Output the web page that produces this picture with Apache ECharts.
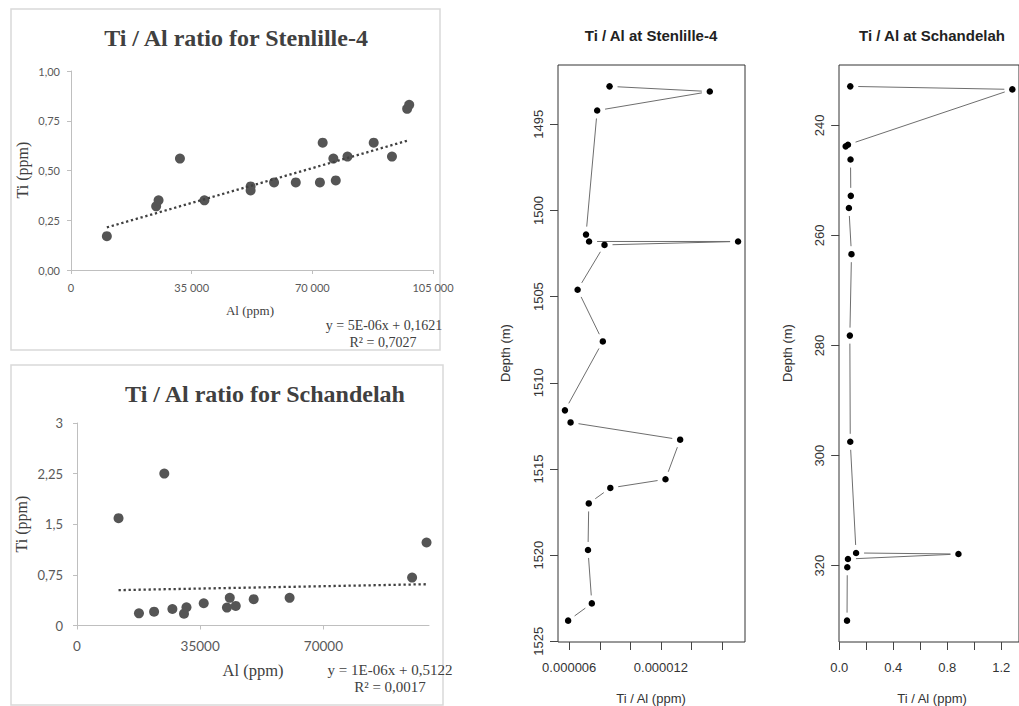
<!DOCTYPE html>
<html>
<head>
<meta charset="utf-8">
<script src="https://cdn.jsdelivr.net/npm/echarts@6/dist/echarts.min.js"></script>
<style>
  html, body { margin: 0; padding: 0; background: #fff; }
  #chart { width: 1019px; height: 706px; }
</style>
</head>
<body>
<div id="chart"></div>
<script>
// ---- Stenlille-4 cross-plot: Al (ppm) against Ti (ppm) ----
const stenAl = [10400, 24700, 25400, 31600, 38700, 52100, 52100, 58900, 65200, 72200, 73000, 76100, 76800, 80200, 87800, 93100, 97500, 98100];
const stenTi = [0.17, 0.32, 0.35, 0.56, 0.35, 0.42, 0.40, 0.44, 0.44, 0.44, 0.64, 0.56, 0.45, 0.57, 0.64, 0.57, 0.81, 0.83];
const stenTrend = [5e-6, 0.1621];          // slope, intercept of the linear fit
const stenR2 = 0.7027;
const stenAlTicks = [0, 35000, 70000, 105000];
const stenTiTicks = [0, 0.25, 0.5, 0.75, 1];

// ---- Schandelah cross-plot ----
const schAl = [11800, 24800, 17600, 21900, 27100, 30400, 31100, 36000, 42600, 43400, 45100, 50200, 60400, 95200, 99300];
const schTi = [1.59, 2.25, 0.18, 0.205, 0.245, 0.175, 0.27, 0.33, 0.265, 0.41, 0.29, 0.39, 0.41, 0.71, 1.23];
const schTrend = [1e-6, 0.5122];
const schR2 = 0.0017;
const schAlTicks = [0, 35000, 70000];
const schAlMax = 100000;
const schTiTicks = [0, 0.75, 1.5, 2.25, 3];

// ---- Ti / Al down-hole profile, Stenlille-4 ----
const stenDepth = [1492.8, 1493.1, 1494.2, 1501.4, 1501.8, 1501.8, 1502.0, 1504.6, 1507.6, 1511.6, 1512.3, 1513.3, 1515.6, 1516.1, 1517.0, 1519.7, 1522.8, 1523.8];
const stenRatio = [8.64e-6, 15.2e-6, 7.83e-6, 7.10e-6, 7.30e-6, 17.05e-6, 8.31e-6, 6.55e-6, 8.20e-6, 5.72e-6, 6.09e-6, 13.26e-6, 12.30e-6, 8.69e-6, 7.28e-6, 7.23e-6, 7.48e-6, 5.93e-6];
const stenDepthTicks = [1495, 1500, 1505, 1510, 1515, 1520, 1525];
const stenRatioTicks = [6e-6, 8e-6, 10e-6, 12e-6, 14e-6, 16e-6];
const stenRatioLabels = [6e-6, 12e-6];

// ---- Ti / Al down-hole profile, Schandelah ----
const schDepth = [232.9, 233.45, 243.5, 243.8, 246.2, 252.8, 255.0, 263.4, 278.2, 297.5, 317.7, 317.9, 318.8, 320.3, 330.0];
const schRatio = [0.082, 1.282, 0.065, 0.048, 0.084, 0.086, 0.072, 0.091, 0.079, 0.082, 0.125, 0.883, 0.065, 0.060, 0.058];
const schDepthTicks = [240, 260, 280, 300, 320];
const schRatioTicks = [0, 0.2, 0.4, 0.6, 0.8, 1.0, 1.2];
const schRatioLabels = [0, 0.4, 0.8, 1.2];

// ---------------------------------------------------------------
const SERIF = '"Liberation Serif", "Times New Roman", serif';
const SANS = '"Liberation Sans", Arial, sans-serif';
const XL = 'Lato, "Liberation Sans", sans-serif';

const pairs = (xs, ys) => xs.map((x, i) => [x, ys[i]]);
const comma = s => String(s).replace('.', ',');

// R style plotting range: data range widened by 4 % on each side
function rRange(v) {
  const lo = Math.min(...v), hi = Math.max(...v), d = (hi - lo) * 0.04;
  return [lo - d, hi + d];
}
// straight fit line across the x-range of the data
function trendLine(xs, coef) {
  const lo = Math.min(...xs), hi = Math.max(...xs);
  return [[lo, coef[0] * lo + coef[1]], [hi, coef[0] * hi + coef[1]]];
}
function slopeText(s) {
  const [m, e] = s.toExponential(0).split('e');
  const ex = parseInt(e, 10);
  return m.toUpperCase() + 'E' + (ex < 0 ? '-' : '+') + String(Math.abs(ex)).padStart(2, '0');
}
const eqText = c => 'y = ' + slopeText(c[0]) + 'x + ' + comma(c[1].toFixed(4));
const r2Text = r => 'R\u00b2 = ' + comma(r.toFixed(4));

// consecutive segments of a profile
function segments(xs, ys) {
  const out = [];
  for (let i = 0; i < xs.length - 1; i++) out.push([xs[i], ys[i], xs[i + 1], ys[i + 1]]);
  return out;
}
// segment shortened at both ends, leaving a gap around each point
function gapped(gap) {
  return function (params, api) {
    const a = api.coord([api.value(0), api.value(1)]);
    const b = api.coord([api.value(2), api.value(3)]);
    const dx = b[0] - a[0], dy = b[1] - a[1], len = Math.hypot(dx, dy);
    if (len <= 2 * gap) return { type: 'group', children: [] };
    const ux = dx / len, uy = dy / len;
    return {
      type: 'line',
      shape: { x1: a[0] + ux * gap, y1: a[1] + uy * gap, x2: b[0] - ux * gap, y2: b[1] - uy * gap },
      style: { stroke: '#6e6e6e', lineWidth: 1 }
    };
  };
}

const stenX = rRange(stenRatio), stenY = rRange(stenDepth);
const schX = rRange(schRatio), schY = rRange(schDepth);

// ---- axis builders ----
function excelAxis(ticks, min, max, fmt, labelSize, margin, tickLen) {
  return {
    type: 'value', min: min, max: max,
    axisLine: { show: true, lineStyle: { color: '#bfbfbf', width: 1 } },
    axisTick: { show: true, length: tickLen, lineStyle: { color: '#bfbfbf' }, customValues: ticks },
    axisLabel: { customValues: ticks, formatter: fmt, fontFamily: XL, fontSize: labelSize, color: '#595959', margin: margin },
    splitLine: { show: false }
  };
}
function rAxis(ticks, labels, range, fmt, inverse, rotate, margin) {
  return {
    type: 'value', min: range[0], max: range[1], inverse: !!inverse,
    axisLine: { show: false },
    axisTick: { show: true, length: 8, lineStyle: { color: '#444' }, customValues: ticks },
    axisLabel: { customValues: labels, formatter: fmt, fontFamily: SANS, fontSize: 13, color: '#333', margin: margin, rotate: rotate || 0 },
    splitLine: { show: false }
  };
}

const boxGrid = { show: true, borderColor: '#333', borderWidth: 1, backgroundColor: 'transparent' };

const option = {
  animation: false,
  backgroundColor: '#fff',
  grid: [
    { left: 71, top: 71, width: 362, height: 199 },
    { left: 77, top: 423, width: 352, height: 202.5 },
    Object.assign({ left: 558, top: 65, width: 187, height: 577 }, boxGrid),
    Object.assign({ left: 839, top: 65, width: 184, height: 577 }, boxGrid)
  ],
  xAxis: [
    Object.assign(excelAxis(stenAlTicks, stenAlTicks[0], stenAlTicks[stenAlTicks.length - 1],
      v => v === 0 ? '0' : String(v).replace(/\B(?=(\d{3})+(?!\d))/g, ' '), 11, 12, 4), { gridIndex: 0 }),
    Object.assign(excelAxis(schAlTicks, schAlTicks[0], schAlMax, v => String(v), 13.5, 13, 4), { gridIndex: 1 }),
    Object.assign(rAxis(stenRatioTicks, stenRatioLabels, stenX, v => v.toFixed(6), false, 0, 19), { gridIndex: 2 }),
    Object.assign(rAxis(schRatioTicks, schRatioLabels, schX, v => v.toFixed(1), false, 0, 19), { gridIndex: 3 })
  ],
  yAxis: [
    Object.assign(excelAxis(stenTiTicks, stenTiTicks[0], stenTiTicks[stenTiTicks.length - 1],
      v => comma(v.toFixed(2)), 11, 11, 4), { gridIndex: 0 }),
    Object.assign(excelAxis(schTiTicks, schTiTicks[0], schTiTicks[schTiTicks.length - 1],
      v => comma(v), 13, 14, 4), { gridIndex: 1 }),
    Object.assign(rAxis(stenDepthTicks, stenDepthTicks, stenY, v => String(v), true, 90, 13), { gridIndex: 2 }),
    Object.assign(rAxis(schDepthTicks, schDepthTicks, schY, v => String(v), true, 90, 13), { gridIndex: 3 })
  ],
  series: [
    {
      type: 'line', xAxisIndex: 0, yAxisIndex: 0, data: trendLine(stenAl, stenTrend),
      symbol: 'none', silent: true,
      lineStyle: { color: '#404040', width: 2.3, type: [2.3, 2.7] }
    },
    {
      type: 'scatter', xAxisIndex: 0, yAxisIndex: 0, data: pairs(stenAl, stenTi),
      symbol: 'circle', symbolSize: 10, itemStyle: { color: '#555', opacity: 1 }
    },
    {
      type: 'line', xAxisIndex: 1, yAxisIndex: 1, data: trendLine(schAl, schTrend),
      symbol: 'none', silent: true,
      lineStyle: { color: '#404040', width: 2.3, type: [2.3, 2.7] }
    },
    {
      type: 'scatter', xAxisIndex: 1, yAxisIndex: 1, data: pairs(schAl, schTi),
      symbol: 'circle', symbolSize: 10, itemStyle: { color: '#555', opacity: 1 }
    },
    {
      type: 'custom', xAxisIndex: 2, yAxisIndex: 2, data: segments(stenRatio, stenDepth),
      encode: { x: [0, 2], y: [1, 3] }, renderItem: gapped(8), silent: true
    },
    {
      type: 'scatter', xAxisIndex: 2, yAxisIndex: 2, data: pairs(stenRatio, stenDepth),
      symbol: 'circle', symbolSize: 6.5, itemStyle: { color: '#000', opacity: 1 }
    },
    {
      type: 'custom', xAxisIndex: 3, yAxisIndex: 3, data: segments(schRatio, schDepth),
      encode: { x: [0, 2], y: [1, 3] }, renderItem: gapped(8), silent: true
    },
    {
      type: 'scatter', xAxisIndex: 3, yAxisIndex: 3, data: pairs(schRatio, schDepth),
      symbol: 'circle', symbolSize: 6.5, itemStyle: { color: '#000', opacity: 1 }
    }
  ],
  graphic: [
    // chart-area frames of the two cross-plots
    { type: 'rect', shape: { x: 11, y: 9, width: 429, height: 341 }, style: { fill: 'none', stroke: '#d9d9d9', lineWidth: 1.5 }, silent: true },
    { type: 'rect', shape: { x: 11, y: 365, width: 432, height: 340 }, style: { fill: 'none', stroke: '#d9d9d9', lineWidth: 1.5 }, silent: true },

    // cross-plot titles and labels
    { type: 'text', x: 236, y: 38, style: { text: 'Ti / Al ratio for Stenlille-4', font: 'bold 24px ' + SERIF, fill: '#404040', align: 'center', verticalAlign: 'middle' } },
    { type: 'text', x: 22, y: 170, rotation: Math.PI / 2, style: { text: 'Ti (ppm)', font: '16px ' + SERIF, fill: '#404040', align: 'center', verticalAlign: 'middle' } },
    { type: 'text', x: 250, y: 310, style: { text: 'Al (ppm)', font: '13px ' + SERIF, fill: '#404040', align: 'center', verticalAlign: 'middle' } },
    { type: 'text', x: 384, y: 325, style: { text: eqText(stenTrend), font: '14px ' + SERIF, fill: '#404040', align: 'center', verticalAlign: 'middle' } },
    { type: 'text', x: 383, y: 342, style: { text: r2Text(stenR2), font: '14px ' + SERIF, fill: '#404040', align: 'center', verticalAlign: 'middle' } },

    { type: 'text', x: 265, y: 394, style: { text: 'Ti / Al ratio for Schandelah', font: 'bold 24px ' + SERIF, fill: '#404040', align: 'center', verticalAlign: 'middle' } },
    { type: 'text', x: 21, y: 524, rotation: Math.PI / 2, style: { text: 'Ti (ppm)', font: '16px ' + SERIF, fill: '#404040', align: 'center', verticalAlign: 'middle' } },
    { type: 'text', x: 253, y: 670, style: { text: 'Al (ppm)', font: '16.5px ' + SERIF, fill: '#404040', align: 'center', verticalAlign: 'middle' } },
    { type: 'text', x: 390, y: 670, style: { text: eqText(schTrend), font: '15px ' + SERIF, fill: '#404040', align: 'center', verticalAlign: 'middle' } },
    { type: 'text', x: 390, y: 687, style: { text: r2Text(schR2), font: '15px ' + SERIF, fill: '#404040', align: 'center', verticalAlign: 'middle' } },

    // profile titles and axis names
    { type: 'text', x: 651, y: 35, style: { text: 'Ti / Al at Stenlille-4', font: 'bold 15px ' + SANS, fill: '#222', align: 'center', verticalAlign: 'middle' } },
    { type: 'text', x: 505, y: 353, rotation: Math.PI / 2, style: { text: 'Depth (m)', font: '13px ' + SANS, fill: '#333', align: 'center', verticalAlign: 'middle' } },
    { type: 'text', x: 651, y: 698, style: { text: 'Ti / Al (ppm)', font: '13px ' + SANS, fill: '#333', align: 'center', verticalAlign: 'middle' } },

    { type: 'text', x: 932, y: 35, style: { text: 'Ti / Al at Schandelah', font: 'bold 15px ' + SANS, fill: '#222', align: 'center', verticalAlign: 'middle' } },
    { type: 'text', x: 787, y: 353, rotation: Math.PI / 2, style: { text: 'Depth (m)', font: '13px ' + SANS, fill: '#333', align: 'center', verticalAlign: 'middle' } },
    { type: 'text', x: 932, y: 698, style: { text: 'Ti / Al (ppm)', font: '13px ' + SANS, fill: '#333', align: 'center', verticalAlign: 'middle' } }
  ]
};

const chart = echarts.init(document.getElementById('chart'), null, { renderer: 'svg' });
chart.setOption(option);
</script>
</body>
</html>
